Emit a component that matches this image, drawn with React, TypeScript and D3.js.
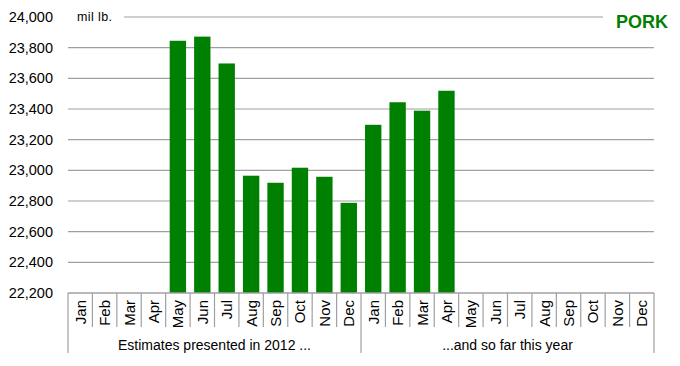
import React from "react";
import * as d3 from "d3";

// --- Data ---
const months = ["Jan", "Feb", "Mar", "Apr", "May", "Jun", "Jul", "Aug", "Sep", "Oct", "Nov", "Dec"];
const groups = ["Estimates presented in 2012 ...", "...and so far this year"];
// value per slot, 2012 first then this year; null = no estimate
const estimates2012: (number | null)[] = [null, null, null, null, 23845, 23872, 23697, 22965, 22919, 23017, 22958, 22788];
const estimatesThisYear: (number | null)[] = [23297, 23444, 23389, 23519, null, null, null, null, null, null, null, null];
const yTicks = [22200, 22400, 22600, 22800, 23000, 23200, 23400, 23600, 23800, 24000];

const W = 680;
const H = 366;
const margin = { top: 17, right: 26, bottom: 73, left: 68 };
const grey = "#a0a0a0";
const green = "#008000";
const font = "'Liberation Sans', Arial, sans-serif";

const App: React.FC = () => {
  const slots = groups.flatMap((g, gi) => months.map((m) => ({ key: `${gi}-${m}`, month: m, group: gi })));
  const values = [...estimates2012, ...estimatesThisYear];

  const x = d3
    .scaleBand()
    .domain(slots.map((s) => s.key))
    .range([margin.left, W - margin.right])
    .paddingInner(0.33)
    .paddingOuter(0.165);
  const step = x.step();
  const left = margin.left;

  const y = d3.scaleLinear().domain([22200, 24000]).range([H - margin.bottom, margin.top]);
  const y0 = y(22200);
  const fmt = d3.format(",");

  return (
    <svg width={W} height={H} style={{ position: "absolute", left: 0, top: 0, background: "#fff" }}>
      {/* gridlines */}
      {yTicks.slice(1).map((t) => (
        <line
          key={t}
          x1={t === 24000 ? 124 : left}
          x2={t === 24000 ? 603 : W - margin.right}
          y1={y(t)}
          y2={y(t)}
          stroke={grey}
          strokeWidth={1.2}
        />
      ))}
      {/* y labels */}
      {yTicks.map((t) => (
        <text key={t} x={53} y={y(t) + 5} textAnchor="end" fontFamily={font} fontSize={14.5} fill="#000">
          {fmt(t)}
        </text>
      ))}
      <text x={77} y={21} fontFamily={font} fontSize={12.5} letterSpacing={0.4} fill="#000">
        mil lb.
      </text>
      <text x={668} y={28} textAnchor="end" fontFamily={font} fontSize={18} fontWeight="bold" fill={green}>
        PORK
      </text>

      {/* bars */}
      {slots.map((s, i) =>
        values[i] == null ? null : (
          <rect
            key={s.key}
            x={x(s.key)!}
            y={y(values[i] as number)}
            width={x.bandwidth()}
            height={y0 - y(values[i] as number)}
            fill={green}
          />
        )
      )}

      {/* x axis */}
      <line x1={left} x2={W - margin.right} y1={y0} y2={y0} stroke={grey} strokeWidth={1.5} />
      {d3.range(slots.length + 1).map((i) => {
        const isGroup = i % 12 === 0;
        return (
          <line
            key={i}
            x1={left + i * step}
            x2={left + i * step}
            y1={y0}
            y2={isGroup ? 353 : 327}
            stroke={grey}
            strokeWidth={1.2}
          />
        );
      })}
      {slots.map((s, i) => {
        const cx = left + (i + 0.5) * step + 5.5;
        return (
          <text
            key={s.key}
            transform={`translate(${cx},${y0 + 7}) rotate(-90)`}
            textAnchor="end"
            fontFamily={font}
            fontSize={15}
            fill="#000"
          >
            {s.month}
          </text>
        );
      })}
      {groups.map((g, gi) => (
        <text
          key={g}
          x={left + (gi * 12 + 6) * step}
          y={350}
          textAnchor="middle"
          fontFamily={font}
          fontSize={14}
          fill="#000"
        >
          {g}
        </text>
      ))}
    </svg>
  );
};

export default App;
